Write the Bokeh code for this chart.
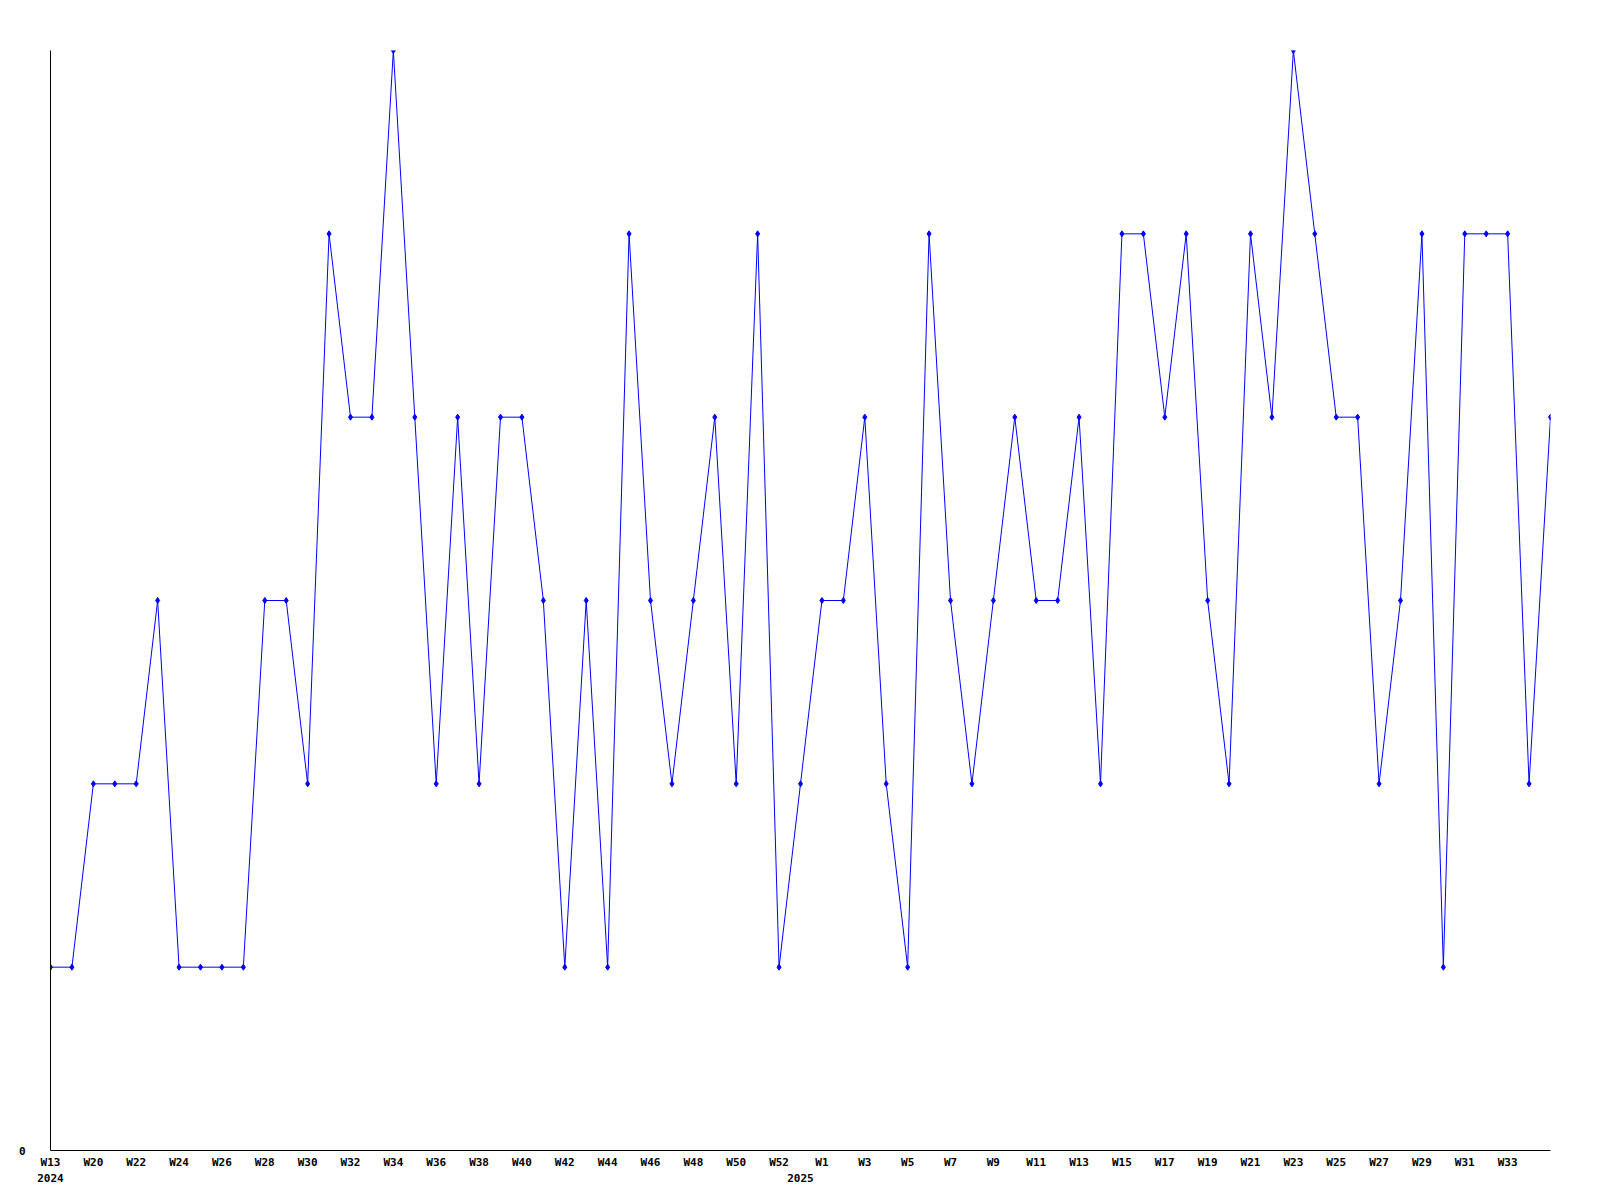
from bokeh.plotting import figure
from bokeh.models import FixedTicker, LinearAxis, Range1d
from bokeh.embed import file_html
from bokeh.resources import INLINE

weeks = ["W13", "W19", "W20", "W21", "W22", "W23", "W24", "W25", "W26", "W27",
         "W28", "W29", "W30", "W31", "W32", "W33", "W34", "W35", "W36", "W37",
         "W38", "W39", "W40", "W41", "W42", "W43", "W44", "W45", "W46", "W47",
         "W48", "W49", "W50", "W51", "W52", "W53",
         "W1", "W2", "W3", "W4", "W5", "W6", "W7", "W8", "W9", "W10",
         "W11", "W12", "W13", "W14", "W15", "W16", "W17", "W18", "W19", "W20",
         "W21", "W22", "W23", "W24", "W25", "W26", "W27", "W28", "W29", "W30",
         "W31", "W32", "W33", "W34", "W35"]
values = [1, 1, 2, 2, 2, 3, 1, 1, 1, 1,
          3, 3, 2, 5, 4, 4, 6, 4, 2, 4,
          2, 4, 4, 3, 1, 3, 1, 5, 3, 2,
          3, 4, 2, 5, 1, 2,
          3, 3, 4, 2, 1, 5, 3, 2, 3, 4,
          3, 3, 4, 2, 5, 5, 4, 5, 3, 2,
          5, 4, 6, 5, 4, 4, 2, 3, 5, 1,
          5, 5, 5, 2, 4]
year_labels = {0: "2024", 35: "2025"}
ymax = 6

xs = list(range(len(values)))
label_ticks = list(range(0, len(values) - 1, 2))

p = figure(width=1600, height=1200, output_backend="svg", toolbar_location=None,
           x_range=Range1d(0, len(values) - 1), y_range=Range1d(0, ymax),
           frame_width=1500, frame_height=1100,
           min_border_left=50, min_border_top=50, min_border_right=50, min_border_bottom=50,
           x_axis_location=None, y_axis_location=None)
p.outline_line_color = None
p.xgrid.visible = False
p.ygrid.visible = False
p.background_fill_color = "white"

font = "DejaVu Sans Mono"

def style(ax):
    ax.major_tick_out = 0
    ax.major_tick_in = 0
    ax.minor_tick_out = 0
    ax.minor_tick_in = 0
    ax.major_label_text_font = font
    ax.major_label_text_font_style = "bold"
    ax.major_label_text_font_size = "11px"
    ax.major_label_text_color = "black"

xa = LinearAxis(ticker=FixedTicker(ticks=label_ticks))
xa.major_label_overrides = {i: weeks[i] for i in label_ticks}
style(xa)
xa.major_label_standoff = 5
xa.axis_line_color = "black"
xa.axis_line_width = 1
p.add_layout(xa, "below")

ya2 = LinearAxis(ticker=FixedTicker(ticks=list(year_labels.keys())))
ya2.major_label_overrides = year_labels
style(ya2)
ya2.axis_line_color = None
ya2.major_label_standoff = 2
p.add_layout(ya2, "below")

ya = LinearAxis(ticker=FixedTicker(ticks=[0]))
style(ya)
ya.major_label_standoff = 25
ya.axis_line_color = "black"
p.add_layout(ya, "left")

p.line(xs, values, line_color="#0000ff", line_width=1)
p.scatter(xs, values, marker="diamond", size=6, fill_color="#0000ff", line_color="#0000ff")

open("out.html", "w").write(file_html(p, INLINE))
